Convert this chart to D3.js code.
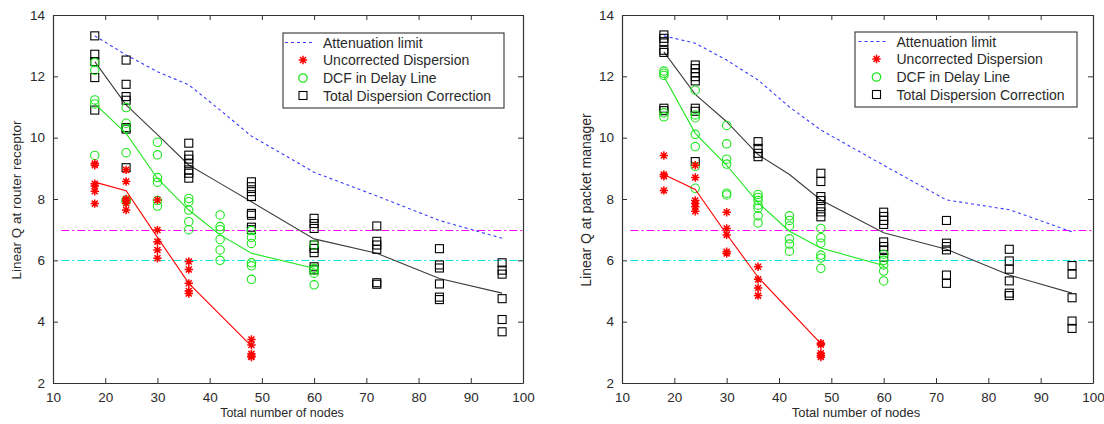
<!DOCTYPE html>
<html>
<head>
<meta charset="utf-8">
<script src="https://cdn.jsdelivr.net/npm/d3@7"></script>
<style>
  html, body { margin: 0; padding: 0; background: #fff; }
  svg { display: block; font-family: "Liberation Sans", Arial, sans-serif; }
</style>
</head>
<body>
<svg id="chart" width="1104" height="424"></svg>
<script>
// ---------- DATA ----------
const xTicks = [10, 20, 30, 40, 50, 60, 70, 80, 90, 100];
const yTicks = [2, 4, 6, 8, 10, 12, 14];
const legendLabels = ["Attenuation limit", "Uncorrected Dispersion", "DCF in Delay Line", "Total Dispersion Correction"];
const xLabel = "Total number of nodes";
const yLabelLeft = "Linear Q at router receptor";
const yLabelRight = "Linear Q at packet manager";
const thresholds = [7, 6];

const lineNodes = [18, 24, 30, 36, 42, 48, 60, 72, 84, 96];
const uncorrNodes = [18, 24, 30, 36, 48];
const dcfNodes = [18, 24, 30, 36, 42, 48, 60];
const totalNodes = [18, 24, 36, 48, 60, 72, 84, 96];

// Left panel (router receptor)
const attenLeft = [13.32, 12.7, 12.15, 11.72, 10.9, 10.05, 8.87, 8.1, 7.3, 6.72];
const uncorrFitLeft = [8.55, 8.27, 6.75, 5.25, 3.2];
const dcfFitLeft = [11.1, 10.14, 8.67, 7.64, 6.83, 6.23, 5.74];
const totalFitLeft = [12.48, 11.07, 10.1, 9.11, 8.51, 7.91, 6.7, 6.23, 5.41, 4.93];
const uncorrPtsLeft = [
  [9.16, 9.1, 8.5, 8.42, 8.25, 7.85],
  [8.95, 8.57, 8.0, 7.95, 7.86, 7.64],
  [7.97, 6.99, 6.61, 6.34, 6.07],
  [5.96, 5.7, 5.25, 5.0, 4.92],
  [3.42, 3.24, 2.95, 2.88, 2.85]
];
const dcfPtsLeft = [
  [12.45, 12.2, 11.23, 11.1, 9.42],
  [10.98, 10.47, 10.3, 9.51, 7.97, 7.92],
  [9.85, 9.44, 8.7, 8.55, 7.95, 7.77],
  [8.02, 7.91, 7.64, 7.26, 7.0],
  [7.48, 7.1, 7.0, 6.68, 6.34, 6.0],
  [6.97, 6.75, 6.55, 5.92, 5.82, 5.38],
  [6.5, 5.74, 5.68, 5.58, 5.2]
];
const totalPtsLeft = [
  [13.32, 12.72, 12.48, 11.96, 10.9],
  [12.53, 11.74, 11.34, 11.22, 10.33, 10.28, 9.02],
  [9.82, 9.43, 9.3, 9.15, 8.95, 8.84, 8.68],
  [8.56, 8.4, 8.24, 8.08, 7.53, 7.47, 7.08, 7.0],
  [7.37, 7.2, 7.04, 6.5, 6.39, 6.25, 5.79, 5.69],
  [7.12, 6.62, 6.5, 6.36, 5.27, 5.22],
  [6.38, 5.85, 5.75, 5.23, 4.8, 4.72],
  [5.92, 5.68, 5.55, 4.75, 4.07, 3.67]
];

// Right panel (packet manager)
const attenRight = [13.32, 13.08, 12.53, 11.88, 11.0, 10.25, 9.1, 7.97, 7.65, 6.93];
const uncorrFitRight = [8.8, 8.31, 6.85, 5.45, 3.28];
const dcfFitRight = [12.0, 10.14, 9.1, 7.88, 6.95, 6.4, 5.83];
const totalFitRight = [12.8, 11.41, 10.52, 9.45, 8.8, 7.97, 6.9, 6.36, 5.52, 4.93];
const uncorrPtsRight = [
  [9.42, 8.8, 8.74, 8.28],
  [9.1, 8.7, 7.95, 7.85, 7.75, 7.6],
  [7.57, 7.04, 6.83, 6.28, 6.22],
  [5.79, 5.38, 5.1, 4.85],
  [3.3, 3.25, 2.97, 2.9, 2.85]
];
const dcfPtsRight = [
  [12.17, 12.1, 12.03, 10.81, 10.68],
  [11.55, 10.74, 10.65, 10.11, 9.71, 9.06, 8.35],
  [10.4, 9.8, 9.3, 9.14, 8.19, 8.13],
  [8.15, 8.05, 7.95, 7.8, 7.7, 7.45, 7.22],
  [7.45, 7.3, 7.12, 6.7, 6.53, 6.3],
  [7.04, 6.74, 6.56, 6.17, 6.08, 5.74],
  [6.2, 6.0, 5.85, 5.65, 5.33]
];
const totalPtsRight = [
  [13.35, 13.24, 13.13, 12.85, 12.78, 10.96, 10.88],
  [12.37, 12.25, 12.12, 11.99, 11.85, 10.96, 10.86, 9.22],
  [9.87, 9.65, 9.49, 9.38],
  [8.84, 8.57, 8.08, 7.95, 7.75, 7.58, 7.42],
  [7.57, 7.43, 7.3, 7.17, 6.6, 6.45, 6.32, 6.1],
  [7.3, 6.56, 6.45, 6.34, 5.52, 5.25],
  [6.36, 5.98, 5.71, 5.33, 4.93, 4.85],
  [5.83, 5.55, 4.78, 4.02, 3.78]
];

// ---------- DRAW ----------
const svg = d3.select("#chart");
const COL = { atten: "#3a3aff", red: "#ff0000", green: "#1ee61e", black: "#000", fit: "#3c3c3c", mag: "#ff00ff", cyan: "#00e5e5", text: "#2a2a2a" };
const starPath = "M-4.2,0H4.2M0,-4.2V4.2M-3,-3L3,3M-3,3L3,-3";

function panel(cfg) {
  const x = d3.scaleLinear().domain([10, 100]).range([cfg.x0, cfg.x1]);
  const y = d3.scaleLinear().domain([2, 14]).range([383, 15]);
  const g = svg.append("g");

  // threshold lines (snapped to pixel rows for crisp colour)
  const thrColors = [COL.mag, COL.cyan];
  thresholds.forEach((t, i) => {
    const yy = Math.round(y(t)) + 0.5;
    g.append("line").attr("x1", x(11.6)).attr("x2", x(100)).attr("y1", yy).attr("y2", yy)
      .attr("stroke", thrColors[i]).attr("stroke-width", 1.2).attr("stroke-dasharray", "8,3,2,3");
  });

  const line = d3.line().x(d => x(d[0])).y(d => y(d[1]));

  // attenuation limit
  g.append("path").datum(d3.zip(lineNodes, cfg.atten)).attr("d", line)
    .attr("fill", "none").attr("stroke", COL.atten).attr("stroke-width", 1.1).attr("stroke-dasharray", "3,3");

  // total correction: fit + squares
  g.append("path").datum(d3.zip(lineNodes, cfg.totalFit)).attr("d", line)
    .attr("fill", "none").attr("stroke", COL.fit).attr("stroke-width", 1.1);
  totalNodes.forEach((n, i) => {
    cfg.totalPts[i].forEach(v => {
      g.append("rect").attr("x", x(n) - 4).attr("y", y(v) - 4).attr("width", 8).attr("height", 8)
        .attr("fill", "none").attr("stroke", COL.black).attr("stroke-width", 1.1);
    });
  });

  // DCF: fit + circles
  g.append("path").datum(d3.zip(dcfNodes, cfg.dcfFit)).attr("d", line)
    .attr("fill", "none").attr("stroke", COL.green).attr("stroke-width", 1.1);
  dcfNodes.forEach((n, i) => {
    cfg.dcfPts[i].forEach(v => {
      g.append("circle").attr("cx", x(n)).attr("cy", y(v)).attr("r", 4.2)
        .attr("fill", "none").attr("stroke", COL.green).attr("stroke-width", 1.1);
    });
  });

  // Uncorrected: fit + stars
  g.append("path").datum(d3.zip(uncorrNodes, cfg.uncorrFit)).attr("d", line)
    .attr("fill", "none").attr("stroke", COL.red).attr("stroke-width", 1.1);
  uncorrNodes.forEach((n, i) => {
    cfg.uncorrPts[i].forEach(v => {
      g.append("path").attr("d", starPath).attr("transform", `translate(${x(n)},${y(v)})`)
        .attr("fill", "none").attr("stroke", COL.red).attr("stroke-width", 1.5);
    });
  });

  // axes box with inward ticks
  const ax = g.append("g");
  ax.append("g").attr("transform", "translate(0,383)")
    .call(d3.axisBottom(x).tickValues(xTicks).tickSize(-5).tickSizeOuter(0).tickPadding(9).tickFormat(d3.format("d")));
  ax.append("g").attr("transform", "translate(0,15)")
    .call(d3.axisTop(x).tickValues(xTicks).tickSize(-5).tickSizeOuter(0).tickFormat(""));
  ax.append("g").attr("transform", `translate(${cfg.x0},0)`)
    .call(d3.axisLeft(y).tickValues(yTicks).tickSize(-5).tickSizeOuter(0).tickPadding(8).tickFormat(d3.format("d")));
  ax.append("g").attr("transform", `translate(${cfg.x1},0)`)
    .call(d3.axisRight(y).tickValues(yTicks).tickSize(-5).tickSizeOuter(0).tickFormat(""));
  ax.selectAll(".domain").attr("stroke", "#333").attr("stroke-width", 1.2);
  ax.selectAll(".tick line").attr("stroke", "#333");
  ax.selectAll(".tick text").attr("fill", COL.text).attr("font-size", 13.5)
    .attr("font-family", "'Liberation Sans', Arial, sans-serif");

  // labels
  g.append("text").attr("x", cfg.xLabelX).attr("y", 417).attr("text-anchor", "middle")
    .attr("font-size", cfg.xLabelSize).attr("fill", COL.text).text(xLabel);
  g.append("text").attr("transform", `translate(${cfg.yLabelX},200) rotate(-90)`).attr("text-anchor", "middle")
    .attr("font-size", cfg.yLabelSize).attr("fill", COL.text).text(cfg.yLabel);

  // legend
  const lm = cfg.lm - cfg.lx;
  const L = g.append("g").attr("transform", `translate(${cfg.lx},${cfg.ly})`);
  L.append("rect").attr("width", cfg.lw).attr("height", 75).attr("fill", "#fff").attr("stroke", "#333").attr("stroke-width", 1.1);
  const rowY = [9.5, 27, 45, 62.5];
  L.append("line").attr("x1", lm - 18).attr("x2", lm + 9).attr("y1", rowY[0]).attr("y2", rowY[0])
    .attr("stroke", COL.atten).attr("stroke-width", 1.1).attr("stroke-dasharray", "3,3");
  L.append("path").attr("d", starPath).attr("transform", `translate(${lm},${rowY[1]})`)
    .attr("fill", "none").attr("stroke", COL.red).attr("stroke-width", 1.5);
  L.append("circle").attr("cx", lm).attr("cy", rowY[2]).attr("r", 4.2)
    .attr("fill", "none").attr("stroke", COL.green).attr("stroke-width", 1.3);
  L.append("rect").attr("x", lm - 4).attr("y", rowY[3] - 4).attr("width", 8).attr("height", 8)
    .attr("fill", "none").attr("stroke", COL.black).attr("stroke-width", 1.1);
  legendLabels.forEach((t, i) => {
    L.append("text").attr("x", lm + 20).attr("y", rowY[i] + 5).attr("font-size", 14)
      .attr("fill", COL.text).text(t);
  });
}

panel({
  x0: 53, x1: 523, xLabelX: 282, xLabelSize: 12.5, yLabelX: 21, yLabelSize: 13.5, yLabel: yLabelLeft,
  lx: 283, ly: 33, lw: 221, lm: 303,
  atten: attenLeft, uncorrFit: uncorrFitLeft, dcfFit: dcfFitLeft, totalFit: totalFitLeft,
  uncorrPts: uncorrPtsLeft, dcfPts: dcfPtsLeft, totalPts: totalPtsLeft
});
panel({
  x0: 622, x1: 1093, xLabelX: 856, xLabelSize: 13, yLabelX: 591, yLabelSize: 14, yLabel: yLabelRight,
  lx: 855, ly: 32, lw: 222, lm: 876.5,
  atten: attenRight, uncorrFit: uncorrFitRight, dcfFit: dcfFitRight, totalFit: totalFitRight,
  uncorrPts: uncorrPtsRight, dcfPts: dcfPtsRight, totalPts: totalPtsRight
});
</script>
</body>
</html>
